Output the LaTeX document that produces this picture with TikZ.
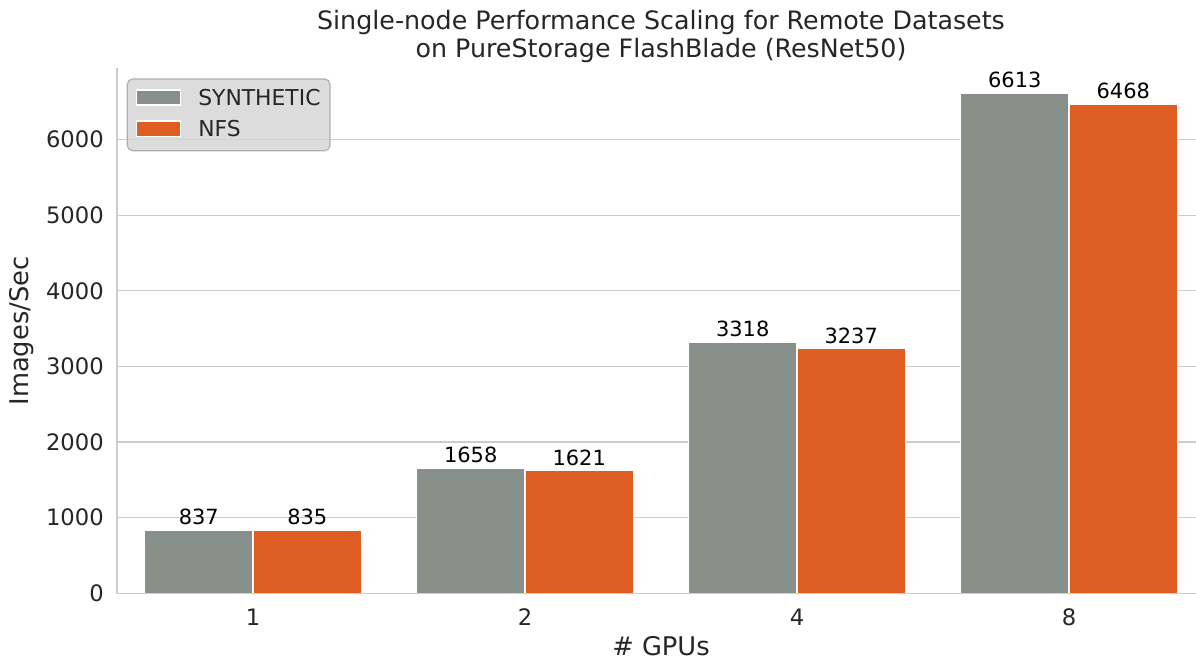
\documentclass[tikz,border=0pt]{standalone}
\usepackage{fontspec}
\setmainfont{DejaVu Sans}
\definecolor{synth}{RGB}{135,143,139}
\definecolor{nfs}{RGB}{222,93,34}
\definecolor{gridc}{RGB}{204,204,204}
\definecolor{txtc}{RGB}{38,38,38}
\definecolor{legfill}{RGB}{214,214,214}
\definecolor{legedge}{RGB}{175,175,175}
\begin{document}
\begin{tikzpicture}[x=0.75pt,y=-0.75pt,
  gridline/.style={draw=gridc, line width=0.9pt},
  spine/.style={draw=gridc, line width=1.2pt},
  ticklbl/.style={text=txtc, font=\fontsize{17}{20}\selectfont, inner sep=0pt},
  leglbl/.style={text=txtc, font=\fontsize{16.4}{19}\selectfont, inner sep=0pt, anchor=west},
  barlbl/.style={text=black, font=\fontsize{15.7}{18}\selectfont, inner sep=0pt, anchor=base},
  axlbl/.style={text=txtc, font=\fontsize{19.3}{22}\selectfont, inner sep=0pt},
  titlelbl/.style={text=txtc, font=\fontsize{19}{22}\selectfont, inner sep=0pt, align=center},
  synthbar/.style={fill=synth, draw=white, line width=0.9pt},
  nfsbar/.style={fill=nfs, draw=white, line width=0.9pt}]
\useasboundingbox (0,0) rectangle (1196,660);
\fill[white] (0,0) rectangle (1196,660);

% horizontal grid and y tick labels
\foreach \v in {0,1000,...,6000}{
  \pgfmathsetmacro\yy{593.3-\v*0.0756}
  \ifnum\v>0 \draw[gridline] (117,\yy) -- (1196,\yy);\fi
  \node[ticklbl, anchor=east] (ytick\v) at (104,\yy) {\v};
}

% bars with value labels
\foreach \c/\a/\b/\g in {253/837/835/1, 525/1658/1621/2, 797/3318/3237/4, 1069/6613/6468/8}{
  \pgfmathsetmacro\ya{593.3-\a*0.0756}
  \pgfmathsetmacro\yb{593.3-\b*0.0756}
  \fill[synthbar] ({\c-108.5},593.3) rectangle (\c,\ya);
  \fill[nfsbar] (\c,593.3) rectangle ({\c+108.5},\yb);
  \draw[white, line width=0.9pt] ({\c-108.5},593.3) rectangle (\c,\ya);
  \draw[white, line width=0.9pt] (\c,593.3) rectangle ({\c+108.5},\yb);
  \node[barlbl] (vs\g) at ({\c-54.25},{\ya-5.5}) {\a};
  \node[barlbl] (vn\g) at ({\c+54.25},{\yb-5.5}) {\b};
  \node[ticklbl, anchor=base] (xtick\g) at (\c,625) {\g};
}

% axis spines
\draw[spine] (117,68) -- (117,593.3);
\draw[spine] (116.4,593.3) -- (1196,593.3);

% axis labels and title
\node[axlbl, rotate=90] (ylab) at (22,331) {Images/Sec};
\node[axlbl, anchor=base] (xlab) at (661,655) {\# GPUs};
\node[titlelbl, anchor=base] (title1) at (661,30) {Single-node Performance Scaling for Remote Datasets};
\node[titlelbl, anchor=base] (title2) at (661,58) {on PureStorage FlashBlade (ResNet50)};

% legend
\draw[fill=legfill, fill opacity=0.85, draw=legedge, line width=0.9pt, rounded corners=4pt]
  (127.3,79) rectangle (330,150.7);
\fill[synthbar] (136.7,90) rectangle (180.7,105);
\draw[white, line width=0.9pt] (136.7,90) rectangle (180.7,105);
\fill[nfsbar] (136.7,121) rectangle (180.7,136.7);
\draw[white, line width=0.9pt] (136.7,121) rectangle (180.7,136.7);
\node[leglbl] (legs) at (198,97.5) {SYNTHETIC};
\node[leglbl] (legn) at (198,129) {NFS};
\end{tikzpicture}
\end{document}
